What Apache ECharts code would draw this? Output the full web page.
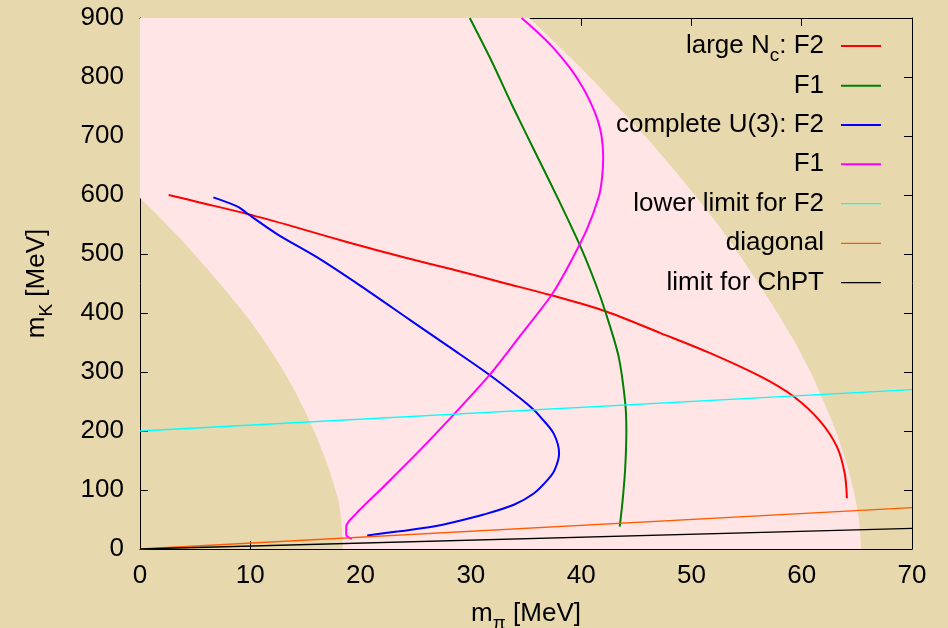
<!DOCTYPE html>
<html><head><meta charset="utf-8">
<script src="https://cdn.jsdelivr.net/npm/echarts@6/dist/echarts.min.js"></script>
<style>html,body{margin:0;padding:0;background:#e8d8ae}#c{width:948px;height:628px}</style>
</head><body><div id="c"></div>
<script>
// ---- data ----
const xTitle = 'm_π [MeV]';
const yTitle = 'm_K [MeV]';
const seriesKeys = ['largeF2', 'largeF1', 'u3F2', 'u3F1', 'lowerF2', 'diag', 'chpt'];
const legendLabels = ['large N_c: F2', 'F1', 'complete U(3): F2', 'F1', 'lower limit for F2', 'diagonal', 'limit for ChPT'];

const largeNcF2 = [[2.6,600],[5.5,587],[9.7,568],[14,546],[19,519],[24,494],[28.1,475],[33,451],[37.3,430],[42.2,403],[47.2,366],[51.7,332],[56.3,292],[59.3,258],[61.7,216],[63.2,173],[63.9,128],[64.1,86]];
const largeNcF1 = [[29.9,900],[31.8,830],[33.8,750],[35.9,670],[38.0,590],[40.0,510],[41.3,450],[42.2,402],[43.4,326],[44.0,247],[44.1,200],[44.0,139],[43.8,90],[43.5,38]];
const u3F2 = [[6.65,596],[8.9,580],[9.7,569],[12.5,533],[16.0,495],[20,446],[24.5,388],[28,343],[31.7,295],[34.5,255],[35.7,236],[36.3,224],[37.5,196],[38.0,162],[37.6,134],[37.0,118],[35.7,94],[33.9,75],[31.1,58],[28.8,47],[26.6,38],[23.5,30],[20.6,23]];
const u3F1 = [[34.6,900],[36.1,875],[37.4,851],[39.0,815],[40.1,784],[40.9,755],[41.5,727],[41.85,700],[42.0,665],[41.9,630],[41.6,597],[40.5,541],[38.8,478],[37.3,430],[34.5,362],[31.7,295],[28.4,227],[25.1,162],[22.1,106],[19.6,60],[18.7,38],[18.7,24],[19.2,17]];
const lowerLimitF2 = [[0,200],[70,270]];
const diagonal = [[0,0],[70,70]];
const chptLimit = [[0,0],[70,35]];

// boundary of the shaded (allowed) region; first/last points lie just outside the plot
const leftEdge = [[-1,613],[0,595],[1,577],[2,558],[3,538],[4,519],[5,498],[6,477],[7,455],[8,433],[9,410],[10,386],[11,360],[12,332],[13,302],[14,269],[15,232],[16,191],[17,143],[17.5,114],[18,82],[18.25,50],[18.4,0],[18.45,-30]];
const rightEdge = [[34.5,915],[35.3,900],[38.1,850],[40.8,800],[43.3,750],[45.8,700],[48.1,650],[50.3,600],[52.4,550],[54.3,500],[56.1,450],[57.8,400],[59.4,350],[60.8,300],[62.0,250],[63.1,200],[64.0,150],[64.7,100],[65.2,50],[65.4,0],[65.45,-30]];
const outerCorners = [[-10, 1000]];

// ---- styling ----
const FONT = 'Liberation Sans, Arial, sans-serif';
const colors = ['#ff0000', '#008000', '#0000ff', '#ff00ff', '#00ffff', '#ff5a00', '#000000'];
const widths = [2, 2, 2, 2, 1.3, 1.3, 1.3];
const dataSets = [largeNcF2, largeNcF1, u3F2, u3F1, lowerLimitF2, diagonal, chptLimit];
const legendY = [46, 85.7, 125, 164.3, 203.7, 243.3, 282.7];

const rich = {
  a: {fontSize: 26, lineHeight: 26, fontFamily: FONT, color: '#000'},
  e: {fontSize: 26, lineHeight: 26, fontFamily: FONT, color: '#000', padding: [0, 12, 0, 0]},
  s: {fontSize: 19, lineHeight: 19, fontFamily: FONT, color: '#000', padding: [20, 0, 0, 0]}
};
function toRich(label, trailing) {
  const parts = label.split(/_(.)/);
  let out = '';
  for (let i = 0; i < parts.length; i++) {
    if (parts[i] === '') continue;
    const isSub = i % 2 === 1;
    const isLast = i === parts.length - 1;
    const st = isSub ? 's' : (isLast && trailing ? 'e' : 'a');
    out += '{' + st + '|' + parts[i] + '}';
  }
  return out;
}

const chart = echarts.init(document.getElementById('c'), null, {renderer: 'canvas'});

const region = leftEdge.concat([[66, -40]], rightEdge.slice().reverse(), outerCorners);

const axisCommonX = {
  type: 'value', min: 0, max: 70, interval: 10,
  axisLine: {show: true, onZero: false, lineStyle: {color: '#000', width: 1}},
  axisTick: {show: true, inside: true, length: 8, lineStyle: {color: '#000', width: 1}},
  splitLine: {show: false}
};
const axisCommonY = {
  type: 'value', min: 0, max: 900, interval: 100,
  axisLine: {show: true, onZero: false, lineStyle: {color: '#000', width: 1}},
  axisTick: {show: true, inside: true, length: 8, lineStyle: {color: '#000', width: 1}},
  splitLine: {show: false}
};

const series = [{
  type: 'custom',
  name: 'region',
  xAxisIndex: 0, yAxisIndex: 0,
  clip: true,
  silent: true,
  data: [[0, 0]],
  renderItem: function (params, api) {
    return {
      type: 'polygon',
      shape: {points: region.map(p => api.coord(p)), smooth: 0.15},
      style: {fill: '#ffe5e5', stroke: null}
    };
  },
  z: 1
}];
seriesKeys.forEach((k, i) => {
  series.push({
    type: 'line', name: k, xAxisIndex: 0, yAxisIndex: 0,
    data: dataSets[i], symbol: 'none', showSymbol: false,
    smooth: dataSets[i].length > 2 ? 0.3 : false,
    clip: true,
    lineStyle: {color: colors[i], width: widths[i]},
    itemStyle: {color: colors[i]},
    z: 2 + i
  });
});

const legends = seriesKeys.map((k, i) => {
  const hasSub = legendLabels[i].indexOf('_') >= 0;
  const h = hasSub ? 39 : 26;
  return {
    data: [{name: k, icon: 'rect'}],
    right: 67, top: legendY[i] - h / 2,
    padding: 0,
    align: 'right',
    itemWidth: 40, itemHeight: widths[i],
    selectedMode: false,
    itemStyle: {color: colors[i], borderWidth: 0},
    formatter: () => toRich(legendLabels[i], true),
    textStyle: {fontSize: 26, fontFamily: FONT, color: '#000', rich: rich}
  };
});

chart.setOption({
  animation: false,
  backgroundColor: '#e8d8ae',
  grid: {left: 140, right: 36, top: 18, bottom: 79, containLabel: false, outerBoundsMode: 'none'},
  legend: legends,
  xAxis: [
    Object.assign({}, axisCommonX, {
      position: 'bottom',
      axisLabel: {fontSize: 26, fontFamily: FONT, color: '#000', margin: 14},
      name: toRich(xTitle, false), nameLocation: 'middle', nameGap: 40,
      nameTextStyle: {rich: rich}
    }),
    Object.assign({}, axisCommonX, {position: 'top', axisLabel: {show: false}})
  ],
  yAxis: [
    Object.assign({}, axisCommonY, {
      position: 'left',
      axisLabel: {fontSize: 26, fontFamily: FONT, color: '#000', margin: 16},
      name: toRich(yTitle, false), nameLocation: 'middle', nameGap: 90, nameRotate: 90,
      nameTextStyle: {rich: rich}
    }),
    Object.assign({}, axisCommonY, {position: 'right', axisLabel: {show: false}})
  ],
  series: series
});
</script></body></html>
